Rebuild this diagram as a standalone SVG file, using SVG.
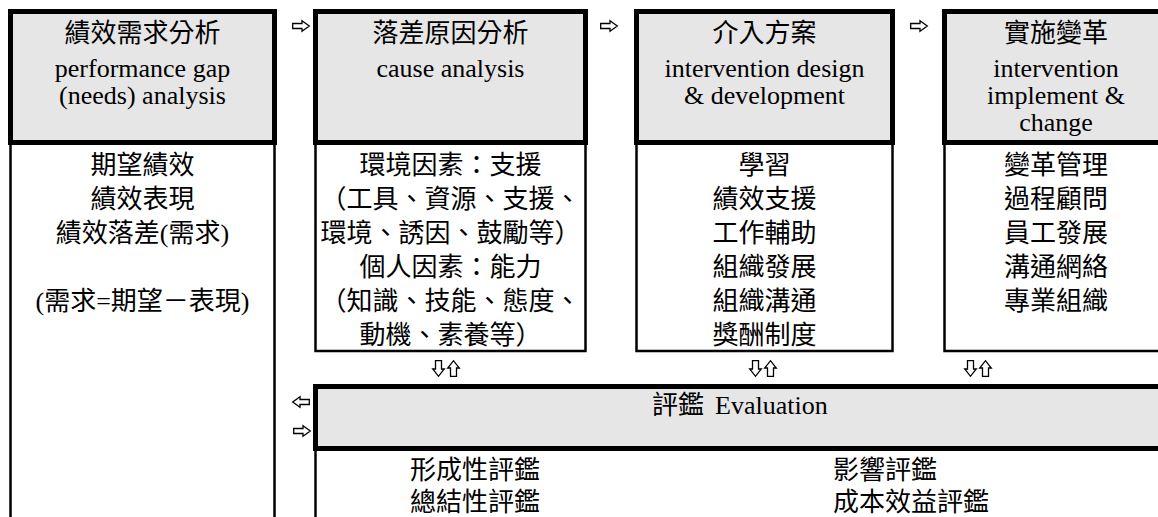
<svg xmlns="http://www.w3.org/2000/svg" xmlns:xlink="http://www.w3.org/1999/xlink" width="1158" height="517" viewBox="0 0 1158 517">
<style>
.hdr{fill:#e6e6e6;stroke:#000;stroke-width:5}
.body{fill:none;stroke:#000;stroke-width:2.5}
.t{font-family:"Liberation Serif","Noto Sans CJK TC",serif;font-size:26px;fill:#000;text-anchor:middle}
.ts{font-family:"Liberation Serif","Noto Sans CJK TC",serif;font-size:26px;fill:#000;text-anchor:start}
.arw{fill:#fff;stroke:#000;stroke-width:1.3;stroke-linejoin:miter}
</style>
<defs>
<polygon id="ar" class="arw" points="0.7,3.5 10,3.5 10,0.7 17.3,6 10,11.3 10,8.5 0.7,8.5"/>
<polygon id="al" class="arw" points="17.3,3.5 8,3.5 8,0.7 0.7,6 8,11.3 8,8.5 17.3,8.5"/>
<polygon id="ad" class="arw" points="3.5,0.7 9.5,0.7 9.5,9 12.3,9 6.5,16.3 0.7,9 3.5,9"/>
<polygon id="au" class="arw" points="3.5,16.3 9.5,16.3 9.5,8 12.3,8 6.5,0.7 0.7,8 3.5,8"/>
</defs>
<rect width="1158" height="517" fill="#fff"/>

<g id="node-needs">
<path class="body" d="M10.5,142.5 V520 M274.5,142.5 V520"/>
<rect class="hdr" x="10.5" y="11.5" width="264" height="131"/>
<text class="t" x="142.5" y="42">績效需求分析</text>
<text class="t" x="142.5" y="77">performance gap</text>
<text class="t" x="142.5" y="104">(needs) analysis</text>
<text class="t" x="142.5" y="174">期望績效</text>
<text class="t" x="142.5" y="208">績效表現</text>
<text class="t" x="142.5" y="242">績效落差(需求)</text>
<text class="t" x="142.5" y="310">(需求=期望－表現)</text>
</g>

<g id="node-cause">
<rect class="body" x="315.5" y="142.5" width="270" height="208.5"/>
<rect class="hdr" x="315.5" y="11.5" width="270" height="131"/>
<text class="t" x="450.5" y="42">落差原因分析</text>
<text class="t" x="450.5" y="77">cause analysis</text>
<text class="t" x="450.5" y="174">環境因素：支援</text>
<text class="t" x="450.5" y="208">（工具、資源、支援、</text>
<text class="t" x="450.5" y="242">環境、誘因、鼓勵等）</text>
<text class="t" x="450.5" y="276">個人因素：能力</text>
<text class="t" x="450.5" y="310">（知識、技能、態度、</text>
<text class="t" x="450.5" y="344">動機、素養等）</text>
</g>

<g id="node-intervention">
<rect class="body" x="636.5" y="142.5" width="256" height="208.5"/>
<rect class="hdr" x="636.5" y="11.5" width="256" height="131"/>
<text class="t" x="764.5" y="42">介入方案</text>
<text class="t" x="764.5" y="77">intervention design</text>
<text class="t" x="764.5" y="104">&amp; development</text>
<text class="t" x="764.5" y="174">學習</text>
<text class="t" x="764.5" y="208">績效支援</text>
<text class="t" x="764.5" y="242">工作輔助</text>
<text class="t" x="764.5" y="276">組織發展</text>
<text class="t" x="764.5" y="310">組織溝通</text>
<text class="t" x="764.5" y="344">獎酬制度</text>
</g>

<g id="node-implement">
<rect class="body" x="944.5" y="142.5" width="224" height="208.5"/>
<rect class="hdr" x="944.5" y="11.5" width="224" height="131"/>
<text class="t" x="1056" y="42">實施變革</text>
<text class="t" x="1056" y="77">intervention</text>
<text class="t" x="1056" y="104">implement &amp;</text>
<text class="t" x="1056" y="131">change</text>
<text class="t" x="1056" y="174">變革管理</text>
<text class="t" x="1056" y="208">過程顧問</text>
<text class="t" x="1056" y="242">員工發展</text>
<text class="t" x="1056" y="276">溝通網絡</text>
<text class="t" x="1056" y="310">專業組織</text>
</g>

<g id="node-evaluation">
<path class="body" d="M315.5,448.5 V520"/>
<rect class="hdr" x="315.5" y="386.5" width="860" height="62"/>
<text class="ts" y="414"><tspan x="652">評鑑</tspan><tspan x="715">Evaluation</tspan></text>
<text class="ts" x="410" y="479">形成性評鑑</text>
<text class="ts" x="410" y="511">總結性評鑑</text>
<text class="ts" x="833" y="479">影響評鑑</text>
<text class="ts" x="833" y="511">成本效益評鑑</text>
</g>

<g id="connectors">
<use xlink:href="#ar" x="292" y="20"/>
<use xlink:href="#ar" x="600" y="20"/>
<use xlink:href="#ar" x="910" y="20"/>
<use xlink:href="#al" x="292" y="396"/>
<use xlink:href="#ar" x="293" y="425"/>
<use xlink:href="#ad" x="432" y="360"/>
<use xlink:href="#au" x="447" y="360"/>
<use xlink:href="#ad" x="749" y="360"/>
<use xlink:href="#au" x="764" y="360"/>
<use xlink:href="#ad" x="964" y="360"/>
<use xlink:href="#au" x="979" y="360"/>
</g>
</svg>
